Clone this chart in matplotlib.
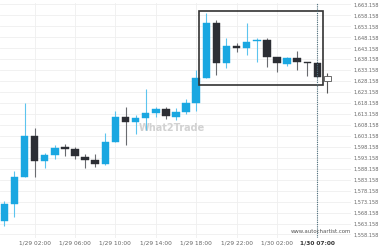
import matplotlib
matplotlib.use("Agg")
import matplotlib.pyplot as plt
from matplotlib.patches import Rectangle

# hourly candles, 1/28 23:00 .. 1/30 07:00
opens = [1564.4, 1571.9, 1584.5, 1603.1, 1591.8, 1594.3, 1598.0, 1597.2, 1593.7, 1592.2,
         1590.3, 1600.4, 1611.8, 1609.4, 1611.5, 1613.5, 1615.6, 1612.0, 1614.2, 1618.0,
         1629.7, 1654.8, 1636.3, 1644.1, 1643.4, 1646.5, 1647.1, 1639.0, 1636.1, 1638.6,
         1636.8, 1636.3, 1628.2]
highs = [1573.4, 1587.1, 1618.3, 1606.8, 1595.2, 1598.9, 1599.3, 1598.0, 1594.9, 1594.8,
         1604.3, 1614.7, 1616.5, 1612.7, 1624.4, 1616.5, 1616.5, 1616.0, 1619.9, 1633.1,
         1659.4, 1656.1, 1647.7, 1645.7, 1654.8, 1647.7, 1647.7, 1639.0, 1639.0, 1641.9,
         1636.8, 1636.3, 1632.1]
lows = [1562.0, 1566.3, 1584.5, 1584.5, 1588.6, 1592.5, 1594.1, 1592.6, 1588.4, 1589.1,
        1589.9, 1600.4, 1599.0, 1604.0, 1605.9, 1611.6, 1610.7, 1610.4, 1613.2, 1614.7,
        1629.7, 1631.0, 1634.0, 1641.3, 1640.1, 1637.0, 1634.5, 1632.5, 1634.9, 1633.2,
        1630.5, 1630.2, 1622.7]
closes = [1571.9, 1584.5, 1603.1, 1591.8, 1594.3, 1597.8, 1597.3, 1594.0, 1592.3, 1590.3,
          1600.4, 1611.8, 1609.4, 1611.3, 1613.5, 1615.6, 1612.4, 1614.2, 1618.0, 1629.7,
          1654.8, 1636.3, 1644.1, 1643.4, 1646.0, 1647.1, 1639.0, 1636.3, 1638.6, 1636.9,
          1636.4, 1630.2, 1630.5]

tick_idx = [3, 7, 11, 15, 19, 23, 27, 31]
tick_labels = ["1/29 02:00", "1/29 06:00", "1/29 10:00", "1/29 14:00",
               "1/29 18:00", "1/29 22:00", "1/30 02:00", "1/30 07:00"]
price_ticks = [1558.158 + 5 * k for k in range(22)]

# pattern box
box_left, box_right = 19.3, 31.6
box_top, box_bottom = 1660.2, 1626.2
event_idx = 31

BLUE = "#1aa7e1"
DARK = "#2c2e34"

fig = plt.figure(figsize=(3.8, 2.5), dpi=100)
ax = fig.add_axes([0.0, 0.048, 0.9237, 0.94])

n = len(opens)
for i in range(n):
    o, h, l, c = opens[i], highs[i], lows[i], closes[i]
    last = i == n - 1
    if last:
        fc, ec, wc = "white", "#555555", "#555555"
    elif c >= o:
        fc, ec, wc = BLUE, BLUE, "#5cc4ee"
    else:
        fc, ec, wc = DARK, DARK, "#6a6c70"
    ax.vlines(i, l, h, color=wc, lw=0.8, zorder=2)
    body = max(abs(c - o), 0.45)
    ax.bar(i, body, bottom=min(o, c), width=0.74, color=fc, edgecolor=ec,
           lw=0.6 if last else 0.3, zorder=3)

ax.add_patch(Rectangle((box_left, box_bottom), box_right - box_left, box_top - box_bottom,
                       fill=False, ec="#333333", lw=1.2, zorder=4))
ax.axvline(event_idx, color="#4d6e7c", lw=0.8, ls=(0, (1, 1)), zorder=5)

ax.set_xlim(-0.43, 34.33)
ax.set_ylim(1556.54, 1663.84)

ax.yaxis.tick_right()
ax.set_yticks(price_ticks)
ax.set_yticklabels([f"{v:,.3f}" for v in price_ticks])
ax.tick_params(axis="y", length=0, pad=2, labelsize=3.6, labelcolor="#666666")
ax.set_xticks(tick_idx)
ax.set_xticklabels(tick_labels)
ax.tick_params(axis="x", length=0, pad=2, labelsize=4.2, labelcolor="#666666")
lab = ax.get_xticklabels()[-1]
lab.set_fontweight("bold")
lab.set_color("#333333")

ax.grid(color="#efefef", lw=0.6, zorder=0)
ax.set_axisbelow(True)
for s in ax.spines.values():
    s.set_visible(False)

ax.text(0.49, 0.47, "What2Trade", transform=ax.transAxes, fontsize=7,
        fontweight="bold", color="#d2d2d2", ha="center", va="center", zorder=1)
ax.text(1.0, 0.015, "www.autochartist.com", transform=ax.transAxes, fontsize=3.9,
        color="#555555", ha="right", va="bottom", zorder=6)

fig.savefig("out.png", dpi=100)
